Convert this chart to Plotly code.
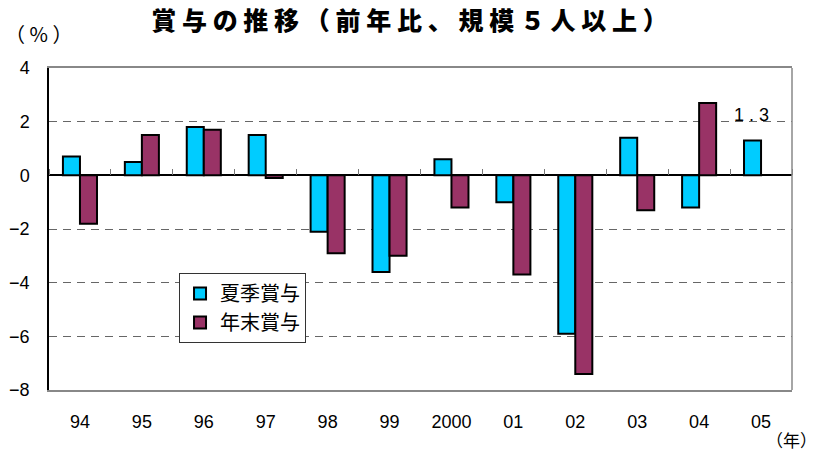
import plotly.graph_objects as go

years = ["94", "95", "96", "97", "98", "99", "2000", "01", "02", "03", "04", "05"]
summer = [0.7, 0.5, 1.8, 1.5, -2.1, -3.6, 0.6, -1.0, -5.9, 1.4, -1.2, 1.3]
winter = [-1.8, 1.5, 1.7, -0.1, -2.9, -3.0, -1.2, -3.7, -7.4, -1.3, 2.7, None]
y_ticks = [-8, -6, -4, -2, 0, 2, 4]
names = ["夏季賞与", "年末賞与"]
title = "賞与の推移（前年比、規模５人以上）"

JP = "Noto Sans CJK JP"
NUM = "Liberation Sans"

fig = go.Figure()
fig.add_trace(go.Bar(x=years, y=summer, name=names[0],
                     marker=dict(color="#00CCFF", line=dict(color="black", width=2))))
fig.add_trace(go.Bar(x=years, y=winter, name=names[1],
                     marker=dict(color="#993366", line=dict(color="black", width=2))))
# invisible helper trace to carry the zero-line tick axis
fig.add_trace(go.Scatter(x=years, y=[0] * len(years), xaxis="x2", showlegend=False,
                         hoverinfo="skip", mode="markers",
                         marker=dict(size=1, opacity=0)))

fig.update_layout(
    width=819, height=452,
    margin=dict(l=49, r=27, t=68, b=62),
    paper_bgcolor="white", plot_bgcolor="white",
    barmode="group", bargap=0.45, bargroupgap=0,
    title=dict(text=" ".join(title), x=0.5, xanchor="center", y=0.952, yanchor="middle",
               font=dict(family=JP, size=25, color="black", weight=900)),
    xaxis=dict(type="category", categoryarray=years, showline=True, linecolor="#888888",
               linewidth=1.5, mirror=True, ticks="", showgrid=False, automargin=False,
               tickfont=dict(family=NUM, size=18, color="black"), ticklabelstandoff=15,
               range=[-0.5, 11.5]),
    xaxis2=dict(type="category", categoryarray=years, overlaying="x", anchor="free",
                side="top", position=8 / 12, showline=False, ticks="outside",
                tickson="boundaries", ticklen=6, tickwidth=1, tickcolor="#777777",
                showticklabels=False, showgrid=False, automargin=False, range=[-0.5, 11.5]),
    yaxis=dict(range=[-8, 4], tickvals=y_ticks, showline=True, linecolor="black",
               linewidth=1.5, ticks="", showgrid=True, gridcolor="#666666",
               griddash="8px,6px", gridwidth=1, zeroline=True, zerolinecolor="black",
               zerolinewidth=1.5, tickfont=dict(family=NUM, size=18, color="black"),
               ticklabelstandoff=14, automargin=False),
    legend=dict(x=0.175, y=0.363, xanchor="left", yanchor="top", bgcolor="white",
                bordercolor="#333333", borderwidth=1, font=dict(family=JP, size=20, color="black"),
                itemwidth=30, tracegroupgap=2),
    shapes=[dict(type="line", xref="paper", yref="paper", x0=1, x1=1, y0=0, y1=1,
                 line=dict(color="#888888", width=1.5))],
    annotations=[
        dict(text="（ % ）", xref="paper", yref="paper", x=-0.062, y=1.055, xanchor="left",
             yanchor="bottom", showarrow=False, font=dict(family=JP, size=20, color="black")),
        dict(text="（年）", xref="paper", yref="paper", x=1.036, y=-0.155,
             xanchor="right", yanchor="middle", showarrow=False,
             font=dict(family=JP, size=17, color="black")),
        dict(text="1 . 3", x=years.index("05"), y=2.25, xref="x", yref="y", xshift=-10,
             showarrow=False, font=dict(family=NUM, size=18, color="black")),
    ],
)

fig.write_html("out.html", config={"displayModeBar": False},
               post_script="document.body.style.margin='0';document.body.style.padding='0';")
